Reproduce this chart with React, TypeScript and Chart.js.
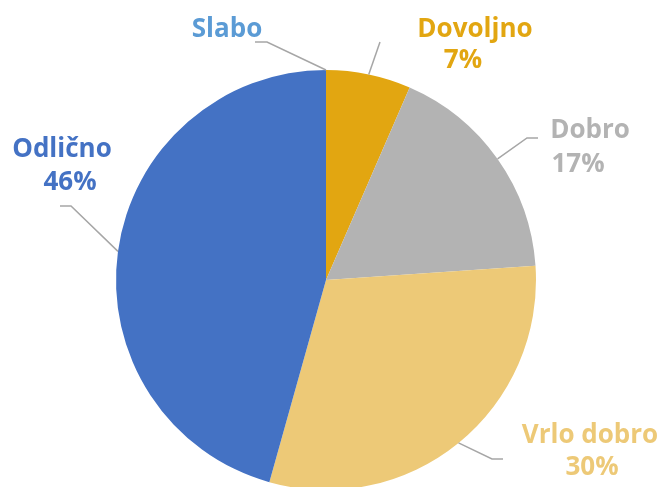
import React, { useEffect, useRef } from "react";
import { Chart, registerables } from "chart.js";

Chart.register(...registerables);

const categories = ["Slabo", "Dovoljno", "Dobro", "Vrlo dobro", "Odlično"];
const values = [0, 3, 8, 14, 21];
const sliceColors = ["#5B9BD5", "#E2A611", "#B3B3B3", "#EDC977", "#4472C4"];

const total = values.reduce((a, b) => a + b, 0);
const percentLabels = values.map((v) => (v > 0 ? Math.round((v / total) * 100) + "%" : ""));

// label layout: elbow point, end point, text centres (line1, line2) at baselines
const labelLayout = [
  { elbow: [267, 42], end: [255, 42], l1: [227, 37], l2: null },
  { elbow: [380, 42], end: [380, 42], l1: [475, 37], l2: [463, 68] },
  { elbow: [527, 138], end: [538, 138], l1: [590, 138], l2: [578, 172] },
  { elbow: [492, 459], end: [503, 459], l1: [590, 443], l2: [592, 475] },
  { elbow: [71, 206], end: [60, 206], l1: [62, 157], l2: [70, 190] },
];

const labelPlugin = {
  id: "pieLabels",
  afterDatasetsDraw(chart: any) {
    const ctx = chart.ctx;
    const meta = chart.getDatasetMeta(0);
    ctx.save();
    meta.data.forEach((arc: any, i: number) => {
      const { x, y, startAngle, endAngle, outerRadius } = arc.getProps(
        ["x", "y", "startAngle", "endAngle", "outerRadius"],
        true
      );
      const mid = (startAngle + endAngle) / 2;
      const ax = x + Math.cos(mid) * outerRadius;
      const ay = y + Math.sin(mid) * outerRadius;
      const lay = labelLayout[i];
      ctx.beginPath();
      ctx.strokeStyle = "#A6A6A6";
      ctx.lineWidth = 1.5;
      ctx.moveTo(ax, ay);
      ctx.lineTo(lay.elbow[0], lay.elbow[1]);
      ctx.lineTo(lay.end[0], lay.end[1]);
      ctx.stroke();

      ctx.fillStyle = sliceColors[i];
      ctx.font = "bold 26px 'Open Sans'";
      ctx.textAlign = "center";
      ctx.textBaseline = "alphabetic";
      ctx.fillText(categories[i], lay.l1[0], lay.l1[1]);
      if (lay.l2 && percentLabels[i]) {
        ctx.fillText(percentLabels[i], lay.l2[0], lay.l2[1]);
      }
    });
    ctx.restore();
  },
};

export default function App() {
  const ref = useRef<HTMLCanvasElement>(null);
  useEffect(() => {
    document.body.style.margin = "0";
    const chart = new Chart(ref.current!, {
      type: "pie",
      data: {
        labels: categories,
        datasets: [
          {
            data: values,
            backgroundColor: sliceColors,
            borderWidth: 0,
            radius: 210,
          },
        ],
      },
      options: {
        responsive: false,
        animation: false,
        layout: { padding: { top: 73, bottom: 0, left: 0, right: 10 } },
        plugins: {
          legend: { display: false },
          tooltip: { enabled: false },
        },
      },
      plugins: [labelPlugin],
    });
    return () => chart.destroy();
  }, []);
  return <canvas ref={ref} width={662} height={487} style={{ display: "block" }} />;
}
